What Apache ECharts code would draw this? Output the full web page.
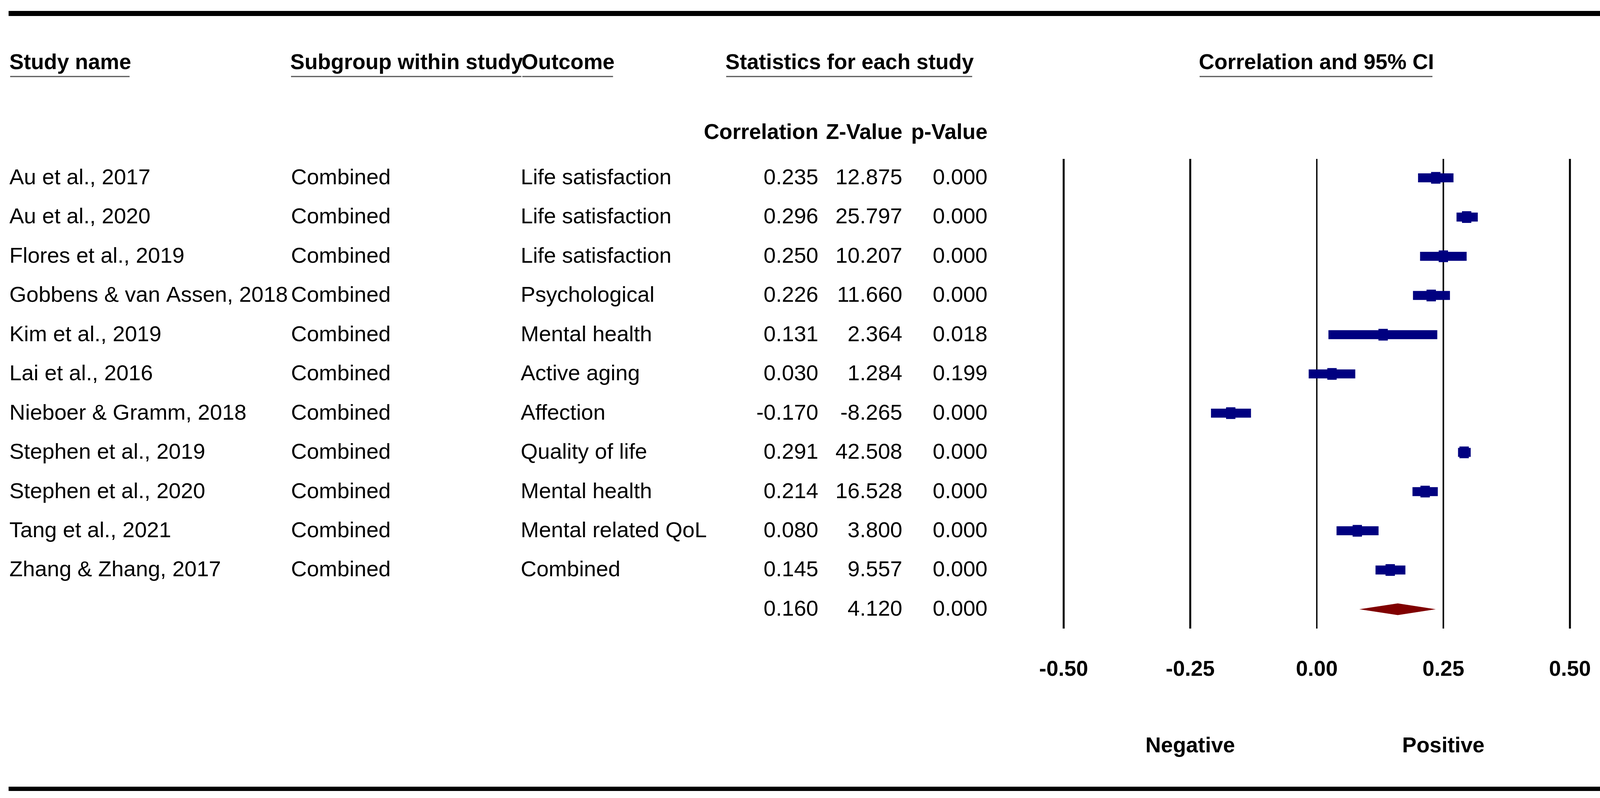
<!DOCTYPE html>
<html><head><meta charset="utf-8">
<script src="https://cdn.jsdelivr.net/npm/echarts@6/dist/echarts.min.js"></script>
<style>html,body{margin:0;padding:0;background:#fff}#c{width:4222px;height:2044px}</style>
</head><body><div id="c"></div>
<script>
// ---- data ----
const studies = ['Au et al., 2017','Au et al., 2020','Flores et al., 2019','Gobbens & van Assen, 2018','Kim et al., 2019','Lai et al., 2016','Nieboer & Gramm, 2018','Stephen et al., 2019','Stephen et al., 2020','Tang et al., 2021','Zhang & Zhang, 2017'];
const subgroups = ['Combined','Combined','Combined','Combined','Combined','Combined','Combined','Combined','Combined','Combined','Combined'];
const outcomes = ['Life satisfaction','Life satisfaction','Life satisfaction','Psychological','Mental health','Active aging','Affection','Quality of life','Mental health','Mental related QoL','Combined'];
const correlations = [0.235,0.296,0.250,0.226,0.131,0.030,-0.170,0.291,0.214,0.080,0.145];
const zValues = [12.875,25.797,10.207,11.660,2.364,1.284,-8.265,42.508,16.528,3.800,9.557];
const pValues = [0.000,0.000,0.000,0.000,0.018,0.199,0.000,0.000,0.000,0.000,0.000];
const lowerCI = [0.200,0.276,0.204,0.190,0.023,-0.016,-0.209,0.279,0.189,0.039,0.116];
const upperCI = [0.270,0.318,0.296,0.263,0.238,0.076,-0.130,0.304,0.239,0.122,0.175];
const summaryCorrelation = 0.160, summaryZ = 4.120, summaryP = 0.000, summaryLower = 0.084, summaryUpper = 0.235;
const tickValues = [-0.50,-0.25,0.00,0.25,0.50];
const tickLabels = ['-0.50','-0.25','0.00','0.25','0.50'];
const directionLabels = [[-0.25,'Negative'],[0.25,'Positive']];

// ---- layout / style ----
const FONT = "'Liberation Sans', Arial, Helvetica, sans-serif";
const NAVY = '#000080', DARKRED = '#800000';
const Y_MIN = -0.483, Y_MAX = 11.493;
const colLeft = [24, 745, 1333];
const colRight = [2095, 2310, 2528];
const lineWidths = [5, 5, 3.5, 4, 5];

const mctx = document.createElement('canvas').getContext('2d');
function textW(t, size, bold){ mctx.font = (bold?'bold ':'') + size + 'px ' + FONT; return mctx.measureText(t).width; }

const chart = echarts.init(document.getElementById('c'), null, {renderer:'canvas', width:4222, height:2044});

const tableRows = [];
for (let i = 0; i < studies.length; i++) {
  tableRows.push([i, studies[i], subgroups[i], outcomes[i], correlations[i].toFixed(3), zValues[i].toFixed(3), pValues[i].toFixed(3)]);
}
tableRows.push([studies.length, '', '', '', summaryCorrelation.toFixed(3), summaryZ.toFixed(3), summaryP.toFixed(3)]);

const studyBars = studies.map((s, i) => [i, lowerCI[i], upperCI[i], correlations[i]]);

// header graphics
const headerY = 162, underlineY = 196, subHeaderY = 341;
const graphics = [];
function header(text, x, align){
  const w = textW(text, 55, true);
  const x0 = align === 'center' ? x - w/2 : x;
  graphics.push({type:'text', x:x0, y:headerY, style:{text:text, font:'bold 55px ' + FONT, fill:'#000', textVerticalAlign:'middle', textAlign:'left'}});
  graphics.push({type:'rect', shape:{x:x0+2, y:underlineY-1.5, width:w-6, height:3}, style:{fill:'#555'}});
}
header('Study name', 24, 'left');
header('Subgroup within study', 743, 'left');
header('Outcome', 1335, 'left');
header('Statistics for each study', 1857, 'left');
header('Correlation and 95% CI', 3370, 'center');
['Correlation','Z-Value','p-Value'].forEach((t, k) => {
  graphics.push({type:'text', x:colRight[k], y:subHeaderY, style:{text:t, font:'bold 55px ' + FONT, fill:'#000', textAlign:'right', textVerticalAlign:'middle'}});
});
graphics.push({type:'rect', shape:{x:22, y:28, width:4200, height:13}, style:{fill:'#000'}});
graphics.push({type:'rect', shape:{x:22, y:2015, width:4200, height:11}, style:{fill:'#000'}});

const option = {
  animation:false,
  backgroundColor:'#fff',
  grid:{left:2723, right:203, top:407, bottom:434},
  xAxis:{type:'value', min:-0.5, max:0.5, interval:0.25,
    axisLine:{show:false}, axisTick:{show:false}, splitLine:{show:false},
    axisLabel:{fontFamily:FONT, fontSize:55, fontWeight:'bold', color:'#000', margin:78,
      formatter:v => { const k = tickValues.findIndex(t => Math.abs(t - v) < 1e-9); return k >= 0 ? tickLabels[k] : ''; }}},
  yAxis:{type:'value', inverse:true, min:Y_MIN, max:Y_MAX, show:false},
  graphic:graphics,
  series:[
    { // vertical reference lines
      type:'custom', silent:true, data:tickValues.map(v => [v]),
      renderItem:(params, api) => {
        const v = api.value(0);
        const p0 = api.coord([v, Y_MIN]), p1 = api.coord([v, Y_MAX]);
        return {type:'line', shape:{x1:p0[0], y1:p0[1], x2:p1[0], y2:p1[1]}, style:{stroke:'#000', lineWidth:lineWidths[params.dataIndex]}};
      }
    },
    { // CI bars + point markers
      type:'custom', silent:true, data:studyBars,
      renderItem:(params, api) => {
        const row = api.value(0);
        const a = api.coord([api.value(1), row]), b = api.coord([api.value(2), row]), c = api.coord([api.value(3), row]);
        return {type:'group', children:[
          {type:'rect', shape:{x:a[0], y:a[1]-11.5, width:b[0]-a[0], height:23}, style:{fill:NAVY}},
          {type:'rect', shape:{x:c[0]-12, y:c[1]-15, width:24, height:30}, style:{fill:NAVY}}
        ]};
      }
    },
    { // summary diamond
      type:'custom', silent:true, data:[[studies.length, summaryLower, summaryUpper, summaryCorrelation]],
      renderItem:(params, api) => {
        const row = api.value(0);
        const a = api.coord([api.value(1), row]), b = api.coord([api.value(2), row]), c = api.coord([api.value(3), row]);
        return {type:'polygon', shape:{points:[[a[0], a[1]], [c[0], c[1]-15], [b[0], b[1]], [c[0], c[1]+15]]}, style:{fill:DARKRED}};
      }
    },
    { // table text
      type:'custom', silent:true, clip:false, data:tableRows,
      dimensions:['row','study','sub','out','r','z','p'],
      renderItem:(params, api) => {
        const d = tableRows[params.dataIndex];
        const y = api.coord([0, d[0]])[1] + 1;
        const st = (t, x, align) => ({type:'text', x:x, y:y, style:{text:t, font:'56px ' + FONT, fill:'#000', textAlign:align, textVerticalAlign:'middle'}});
        return {type:'group', children:[
          st(d[1], colLeft[0], 'left'), st(d[2], colLeft[1], 'left'), st(d[3], colLeft[2], 'left'),
          st(d[4], colRight[0], 'right'), st(d[5], colRight[1], 'right'), st(d[6], colRight[2], 'right')
        ]};
      }
    },
    { // direction labels
      type:'custom', silent:true, clip:false, data:directionLabels,
      renderItem:(params, api) => {
        const x = api.coord([api.value(0), 0])[0];
        return {type:'text', x:x, y:1912, style:{text:directionLabels[params.dataIndex][1], font:'bold 55px ' + FONT, fill:'#000', textAlign:'center', textVerticalAlign:'middle'}};
      }
    }
  ]
};
chart.setOption(option);
</script></body></html>
